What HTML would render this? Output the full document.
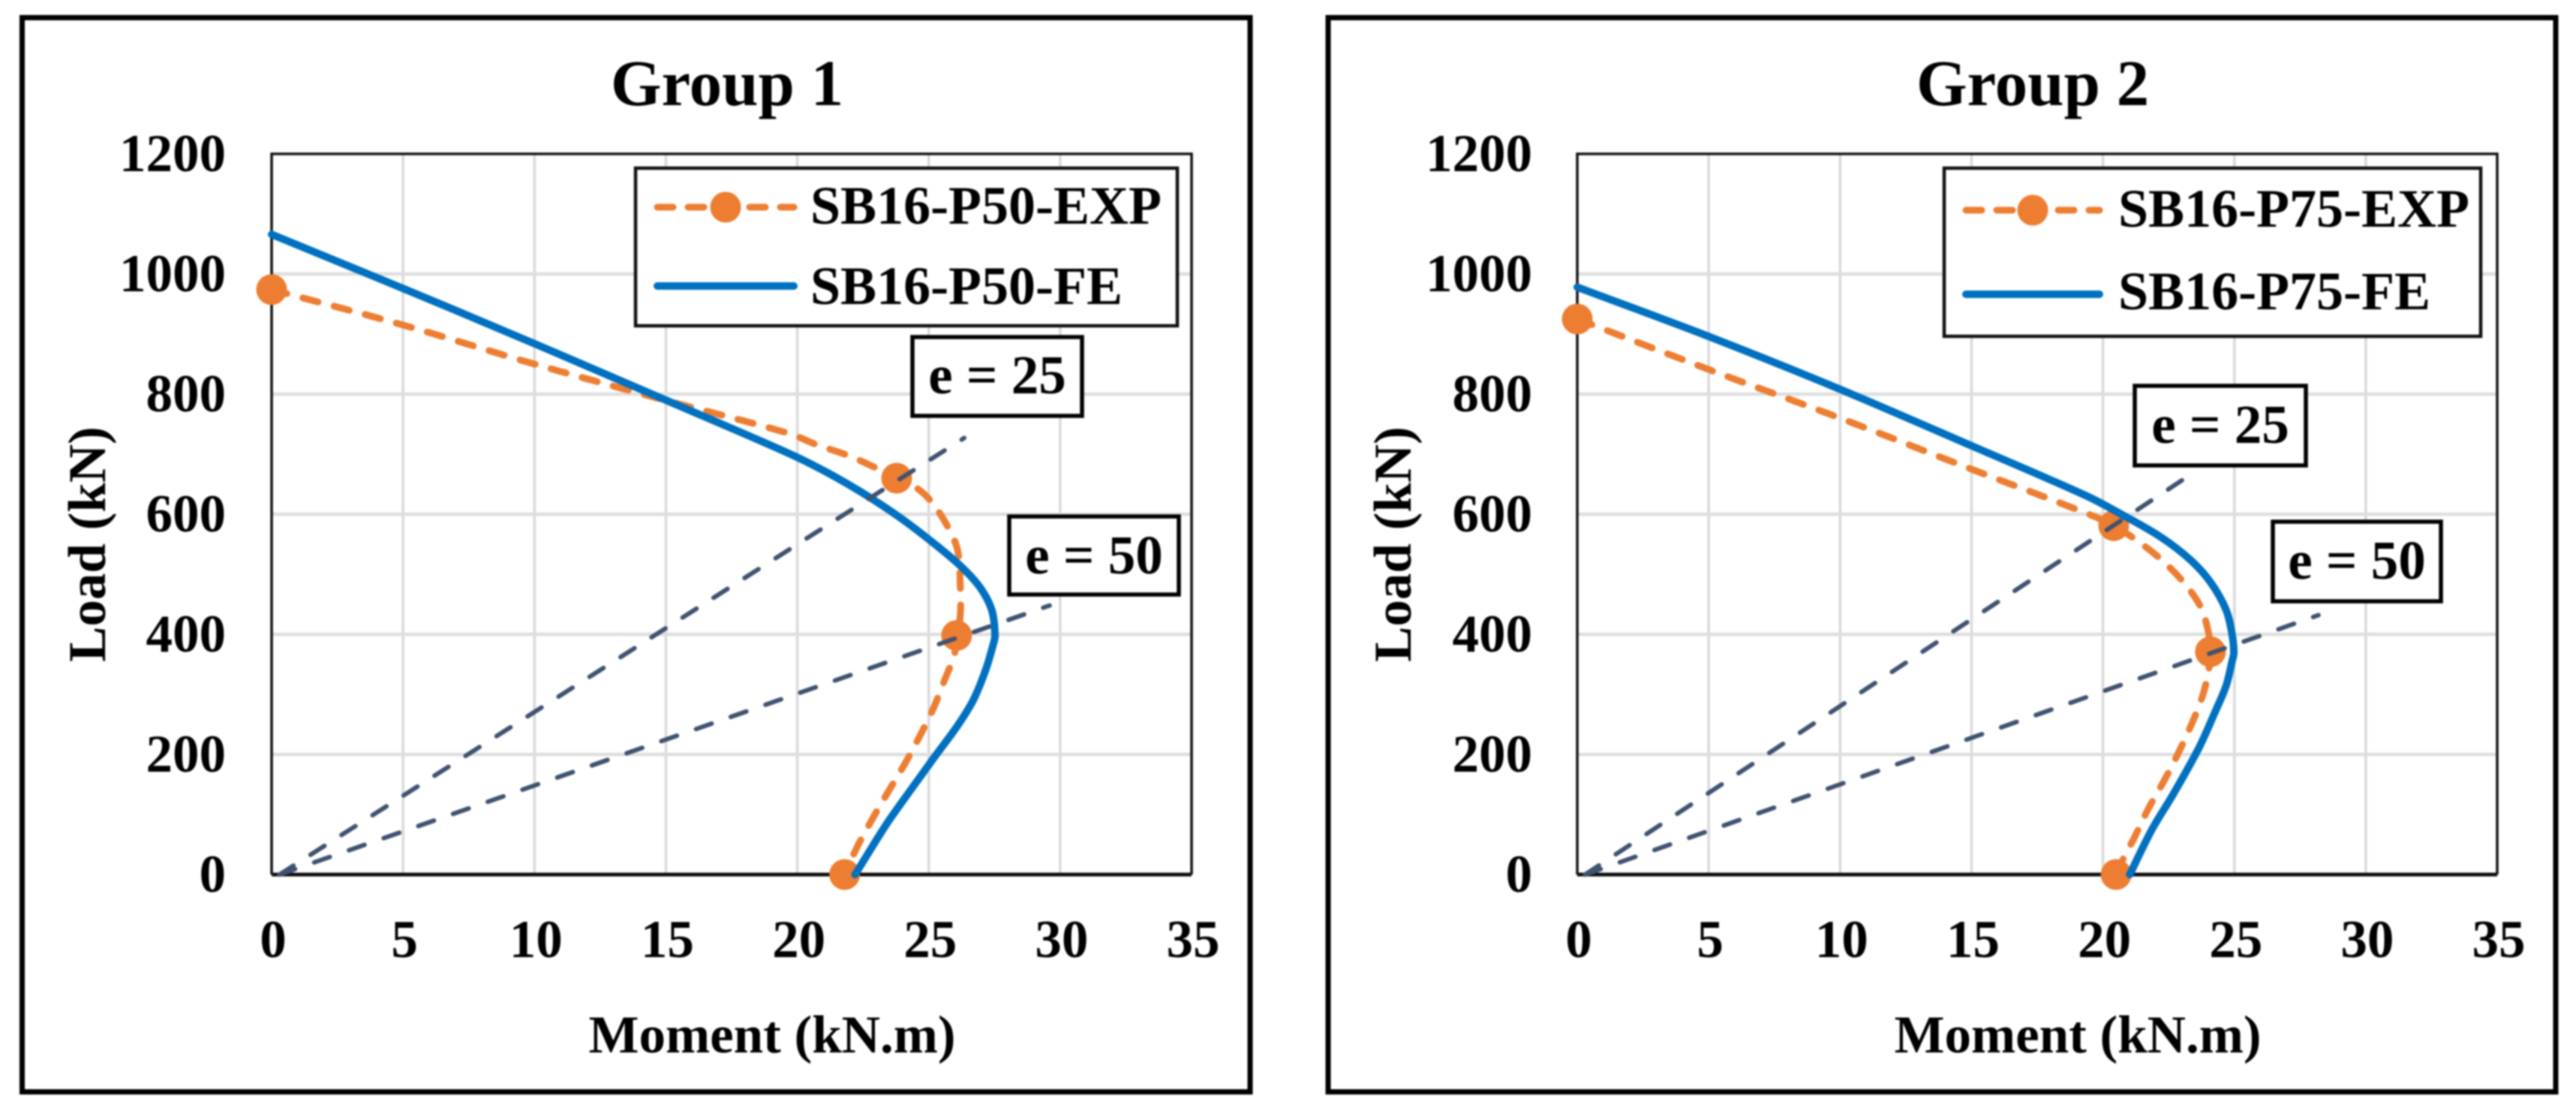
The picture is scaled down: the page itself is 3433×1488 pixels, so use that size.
<!DOCTYPE html>
<html lang="en">
<head>
<meta charset="utf-8">
<title>Load-Moment Interaction Charts</title>
<style>
html,body{margin:0;padding:0;background:#fff;width:3433px;height:1488px;overflow:hidden}
svg{display:block;filter:blur(1px)}
text{font-family:"Liberation Serif",serif;font-weight:bold;fill:#000}
</style>
</head>
<body>
<svg id="figure" xmlns="http://www.w3.org/2000/svg" width="3433" height="1488" viewBox="0 0 3433 1488">
  <rect x="0" y="0" width="3433" height="1488" fill="#fff"/>
  <g id="panel1"></g>
  <g id="panel2"></g>
</svg>
<script>
// ---- shared axis data ----
const xTickValues = [0, 5, 10, 15, 20, 25, 30, 35];
const yTickValues = [0, 200, 400, 600, 800, 1000, 1200];

// ---- Group 1 data ----
const g1FeMoment = [0, 5, 10, 15, 19.64, 21.07, 22.5, 23.92, 25.35, 26.3, 26.97, 27.4, 27.52, 27.44, 27.16, 26.69, 26.1, 25.26, 24.3, 23.35, 22.2];
const g1FeLoad = [1066, 976, 884, 790, 702, 671, 635, 594, 546, 510, 477, 440, 398, 381, 340, 290, 248, 198, 140, 81, 0];
const g1ExpMoment = [0, 5, 10, 14.7, 19.64, 20.78, 21.92, 22.9, 23.78, 24.4, 25.06, 25.7, 26.1, 26.2, 26.2, 26.06, 25.97, 25.63, 25.2, 24.7, 24.1, 23.5, 22.9, 22.3, 21.8];
const g1ExpLoad = [974, 915, 850, 793, 735, 715, 698, 679, 660, 648, 623, 581, 540, 481, 431, 398, 365, 327, 279, 234, 185, 141, 96, 48, 0];
const g1MarkerMoment = [0, 23.78, 26.06, 21.8];
const g1MarkerLoad = [974, 660, 398, 0];
const g1E25Moment = [0.3, 26.35];
const g1E25Load = [0, 727];
const g1E50Moment = [0.3, 29.6];
const g1E50Load = [0, 448];

// ---- Group 2 data ----
const g2FeMoment = [0, 5, 10, 15, 19.35, 20.78, 22.2, 23.35, 24.12, 24.69, 24.92, 24.98, 24.92, 24.69, 24.29, 23.64, 22.69, 21.84, 21.02];
const g2FeLoad = [978, 896, 808, 714, 631, 598, 562, 523, 485, 440, 398, 369, 356, 315, 273, 210, 135, 73, 0];
const g2ExpMoment = [0, 5, 10, 15, 19.35, 20.41, 21.3, 22.15, 23.0, 23.69, 24.0, 24.09, 24.0, 23.78, 23.35, 22.84, 22.3, 21.72, 21.2, 20.78, 20.5];
const g2ExpLoad = [925, 841, 760, 675, 602, 581, 556, 527, 490, 448, 406, 371, 335, 296, 248, 200, 154, 109, 62, 27, 0];
const g2MarkerMoment = [0, 20.41, 24.09, 20.5];
const g2MarkerLoad = [925, 581, 371, 0];
const g2E25Moment = [0.3, 23.44];
const g2E25Load = [0, 669];
const g2E50Moment = [0.3, 28.2];
const g2E50Load = [0, 432];

// ---- axis domains ----
const xDomainMax = 35;
const yDomainMax = 1200;

const NS = 'http://www.w3.org/2000/svg';
const ORANGE = '#ED7D31', BLUE = '#0070C0', SLATE = '#3F5270';

function make(parent, tag, attrs, content) {
  const el = document.createElementNS(NS, tag);
  for (const k in attrs) el.setAttribute(k, attrs[k]);
  if (content !== undefined) el.textContent = content;
  parent.appendChild(el);
  return el;
}

function smoothPath(xs, ys, xFn, yFn) {
  const p = xs.map((v, i) => [xFn(v), yFn(ys[i])]);
  const dist = (a, b) => Math.hypot(a[0] - b[0], a[1] - b[1]);
  const tangent = i => {
    const a = p[Math.max(i - 1, 0)], b = p[Math.min(i + 1, p.length - 1)];
    const len = dist(a, b) || 1;
    return [(b[0] - a[0]) / len, (b[1] - a[1]) / len];
  };
  let d = 'M' + p[0][0].toFixed(1) + ' ' + p[0][1].toFixed(1);
  for (let i = 0; i < p.length - 1; i++) {
    const seg = dist(p[i], p[i + 1]) / 3;
    const t1 = tangent(i), t2 = tangent(i + 1);
    d += 'C' + (p[i][0] + t1[0] * seg).toFixed(1) + ' ' + (p[i][1] + t1[1] * seg).toFixed(1) + ' ' +
         (p[i + 1][0] - t2[0] * seg).toFixed(1) + ' ' + (p[i + 1][1] - t2[1] * seg).toFixed(1) + ' ' +
         p[i + 1][0].toFixed(1) + ' ' + p[i + 1][1].toFixed(1);
  }
  return d;
}

function drawPanel(cfg) {
  const root = document.getElementById(cfg.id);
  const xScale = v => cfg.plotLeft + v / xDomainMax * (cfg.plotRight - cfg.plotLeft);
  const yScale = v => cfg.plotBottom - v / yDomainMax * (cfg.plotBottom - cfg.plotTop);

  const frame = make(root, 'rect', {x: cfg.frameLeft, y: 23.5, width: cfg.frameRight - cfg.frameLeft, height: 1431, fill: '#fff', stroke: '#000', 'stroke-width': 7});
  
  

  const title = make(root, 'text', {x: cfg.titleX, y: 140, 'font-size': 87, 'text-anchor': 'middle'}, cfg.title);
  
  

  xTickValues.forEach(v => {
    if (v === 0 || v === xDomainMax) return;
    const line = make(root, 'line', {x1: xScale(v), x2: xScale(v), y1: cfg.plotTop, y2: cfg.plotBottom, stroke: '#D9D9D9', 'stroke-width': 3.5});
    
    
  });
  yTickValues.forEach(v => {
    if (v === 0 || v === yDomainMax) return;
    const line = make(root, 'line', {x1: cfg.plotLeft, x2: cfg.plotRight, y1: yScale(v), y2: yScale(v), stroke: '#DEDEDE', 'stroke-width': 4.5});
    
    
  });

  const plotBox = make(root, 'path', {d: 'M' + cfg.plotLeft + ' ' + cfg.plotBottom + 'V' + cfg.plotTop + 'H' + cfg.plotRight + 'V' + cfg.plotBottom, fill: 'none', stroke: '#111', 'stroke-width': 3.5});
  
  
  const xAxis = make(root, 'line', {x1: cfg.plotLeft, x2: cfg.plotRight, y1: cfg.plotBottom, y2: cfg.plotBottom, stroke: '#111', 'stroke-width': 5});
  
  

  xTickValues.forEach(v => {
    const t = make(root, 'text', {x: xScale(v) + 2, y: 1275, 'font-size': 71, 'text-anchor': 'middle'}, String(v));
    
    
  });
  yTickValues.forEach(v => {
    const t = make(root, 'text', {x: cfg.yTickRight, y: yScale(v) + 23, 'font-size': 71, 'text-anchor': 'end'}, String(v));
    
    
  });

  const xTitle = make(root, 'text', {x: cfg.xTitleX, y: 1402, 'font-size': 71, 'text-anchor': 'middle'}, 'Moment (kN.m)');
  
  
  const yTitle = make(root, 'text', {x: 0, y: 0, 'font-size': 71, 'text-anchor': 'middle', transform: 'translate(' + cfg.yTitleX + ' 725) rotate(-90)'}, 'Load (kN)');
  
  

  const exp = make(root, 'path', {d: smoothPath(cfg.expX, cfg.expY, xScale, yScale), fill: 'none', stroke: ORANGE, 'stroke-width': 9, 'stroke-dasharray': '21 22', 'stroke-linecap': 'round'});
  
  
  cfg.markerX.forEach((v, i) => {
    const c = make(root, 'circle', {cx: xScale(v), cy: yScale(cfg.markerY[i]), r: 20.5, fill: ORANGE});
    
    
  });
  const fe = make(root, 'path', {d: smoothPath(cfg.feX, cfg.feY, xScale, yScale), fill: 'none', stroke: BLUE, 'stroke-width': 10, 'stroke-linecap': 'round'});
  
  

  const e25 = make(root, 'line', {x1: xScale(cfg.e25X[0]), y1: yScale(cfg.e25Y[0]), x2: xScale(cfg.e25X[1]), y2: yScale(cfg.e25Y[1]), stroke: SLATE, 'stroke-width': 6, 'stroke-dasharray': '22 27', 'stroke-linecap': 'round'});
  
  
  const e50 = make(root, 'line', {x1: xScale(cfg.e50X[0]), y1: yScale(cfg.e50Y[0]), x2: xScale(cfg.e50X[1]), y2: yScale(cfg.e50Y[1]), stroke: SLATE, 'stroke-width': 6, 'stroke-dasharray': '22 27', 'stroke-linecap': 'round'});
  
  

  const lg = cfg.legend;
  const legend = make(root, 'g', {});
  
  
  const lgBox = make(legend, 'rect', {x: lg.x, y: lg.y, width: lg.w, height: lg.h, fill: '#fff', stroke: '#111', 'stroke-width': 4.5});
  
  
  const lgExp = make(legend, 'line', {x1: lg.lineX1 + 4, x2: lg.lineX2 - 4, y1: lg.y1, y2: lg.y1, stroke: ORANGE, 'stroke-width': 9, 'stroke-dasharray': '21 20', 'stroke-linecap': 'round'});
  
  
  const lgDot = make(legend, 'circle', {cx: (lg.lineX1 + lg.lineX2) / 2, cy: lg.y1, r: 20.5, fill: ORANGE});
  
  
  const lgExpText = make(legend, 'text', {x: lg.textX, y: lg.base1, 'font-size': 72}, cfg.expName);
  
  
  const lgFe = make(legend, 'line', {x1: lg.lineX1 + 4, x2: lg.lineX2 - 4, y1: lg.y2, y2: lg.y2, stroke: BLUE, 'stroke-width': 10, 'stroke-linecap': 'round'});
  
  
  const lgFeText = make(legend, 'text', {x: lg.textX, y: lg.base2, 'font-size': 72}, cfg.feName);
  
  

  cfg.boxes.forEach(b => {
    const box = make(root, 'rect', {x: b.x, y: b.y, width: b.w, height: b.h, fill: '#fff', stroke: '#000', 'stroke-width': 5.5});
    
    
    const t = make(root, 'text', {x: b.x + b.w / 2, y: b.base, 'font-size': 73, 'text-anchor': 'middle'}, b.label);
    
    
  });
}

drawPanel({
  id: 'panel1', title: 'Group 1', expName: 'SB16-P50-EXP', feName: 'SB16-P50-FE',
  frameLeft: 29.5, frameRight: 1666, titleX: 969,
  plotLeft: 362, plotRight: 1588, plotTop: 205, plotBottom: 1165,
  yTickRight: 301, xTitleX: 1029, yTitleX: 140,
  feX: g1FeMoment, feY: g1FeLoad, expX: g1ExpMoment, expY: g1ExpLoad,
  markerX: g1MarkerMoment, markerY: g1MarkerLoad,
  e25X: g1E25Moment, e25Y: g1E25Load, e50X: g1E50Moment, e50Y: g1E50Load,
  legend: {x: 847, y: 224, w: 722, h: 210, lineX1: 872, lineX2: 1062, y1: 276, y2: 381, textX: 1080, base1: 298, base2: 405},
  boxes: [
    {x: 1216, y: 449, w: 226, h: 105, base: 524, label: 'e = 25'},
    {x: 1345, y: 688, w: 226, h: 104, base: 764, label: 'e = 50'}
  ]
});

drawPanel({
  id: 'panel2', title: 'Group 2', expName: 'SB16-P75-EXP', feName: 'SB16-P75-FE',
  frameLeft: 1770, frameRight: 3406, titleX: 2709,
  plotLeft: 2102, plotRight: 3328, plotTop: 205, plotBottom: 1165,
  yTickRight: 2042, xTitleX: 2769, yTitleX: 1880,
  feX: g2FeMoment, feY: g2FeLoad, expX: g2ExpMoment, expY: g2ExpLoad,
  markerX: g2MarkerMoment, markerY: g2MarkerLoad,
  e25X: g2E25Moment, e25Y: g2E25Load, e50X: g2E50Moment, e50Y: g2E50Load,
  legend: {x: 2591, y: 224, w: 715, h: 224, lineX1: 2616, lineX2: 2802, y1: 280, y2: 392, textX: 2823, base1: 302, base2: 412},
  boxes: [
    {x: 2845, y: 514, w: 228, h: 106, base: 590, label: 'e = 25'},
    {x: 3029, y: 695, w: 224, h: 106, base: 771, label: 'e = 50'}
  ]
});
</script>
</body>
</html>
